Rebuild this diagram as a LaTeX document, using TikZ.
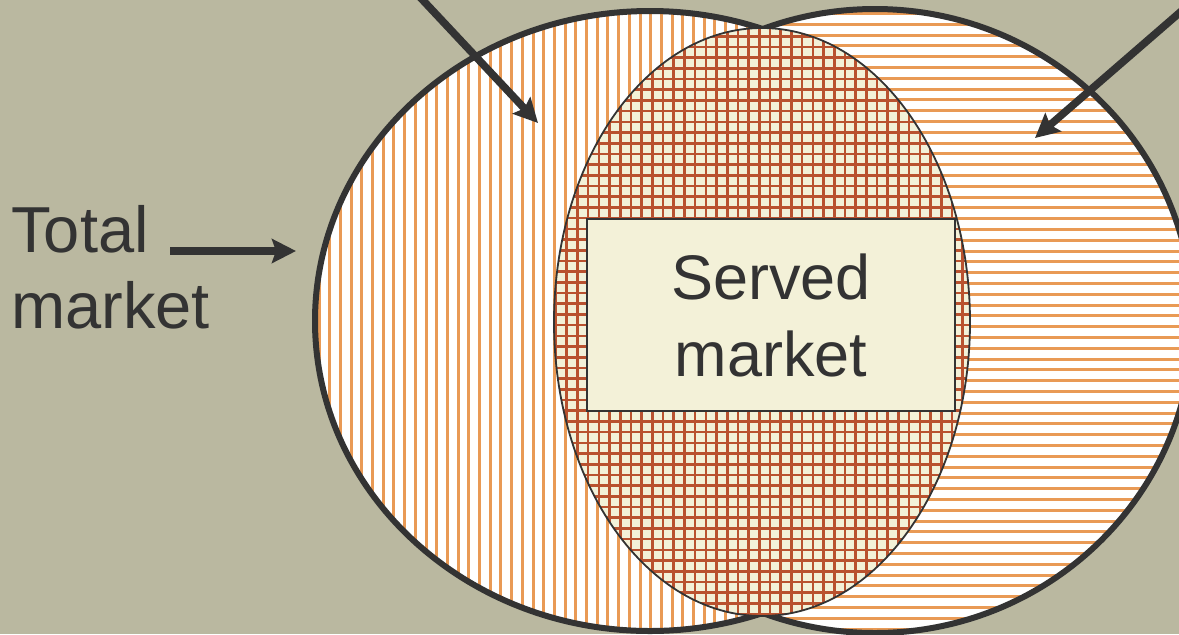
\documentclass[tikz,border=0pt]{standalone}
\usepackage{fontspec}
\setmainfont{Liberation Sans}
\usepackage{tikz}
\usetikzlibrary{arrows.meta,positioning,shapes.geometric}
\definecolor{olivebg}{HTML}{BAB8A0}
\definecolor{ink}{HTML}{333333}
\definecolor{stripeorange}{HTML}{E99A55}
\definecolor{gridbrick}{HTML}{B9522F}
\definecolor{cream}{HTML}{F3F1D8}
\tikzset{
  marketdisc/.style={ellipse,draw=ink,line width=3pt,fill=white,inner sep=0pt},
  vstripes/.style={path picture={
      \foreach \k in {0,...,66}
        \draw[stripeorange,line width=1.5pt]
          ([xshift=\k*5.35pt+2pt]path picture bounding box.south west) --
          ([xshift=\k*5.35pt+2pt]path picture bounding box.north west);}},
  hstripes/.style={path picture={
      \foreach \k in {0,...,60}
        \draw[stripeorange,line width=1.5pt]
          ([yshift=\k*5.4pt+2pt]path picture bounding box.south west) --
          ([yshift=\k*5.4pt+2pt]path picture bounding box.south east);}},
  servedgrid/.style={ellipse,draw=ink,line width=0.9pt,fill=cream,inner sep=0pt,
    path picture={
      \foreach \k in {0,...,41}
        \draw[gridbrick,line width=1.3pt]
          ([xshift=\k*5.35pt+1pt]path picture bounding box.south west) --
          ([xshift=\k*5.35pt+1pt]path picture bounding box.north west);
      \foreach \k in {0,...,58}
        \draw[gridbrick,line width=1.3pt]
          ([yshift=\k*5.35pt+1pt]path picture bounding box.south west) --
          ([yshift=\k*5.35pt+1pt]path picture bounding box.south east);}},
  servedbox/.style={draw=ink,line width=1pt,fill=cream,inner sep=0pt,
    minimum width=184pt,minimum height=96pt,align=center,text=ink,
    font=\fontsize{31.5}{38.5}\selectfont},
  sidelabel/.style={align=left,inner sep=0pt,text=ink,
    font=\fontsize{32.5}{38}\selectfont},
  ptr/.style={draw=ink,line width=3.8pt,
    -{Stealth[length=12pt,width=12pt,inset=2pt]}}
}
\begin{document}
\begin{tikzpicture}[x=0.5pt,y=-0.5pt]
  \useasboundingbox (0,0) rectangle (1179,634);
  \clip (0,0) rectangle (1179,634);
  \fill[olivebg] (0,0) rectangle (1179,634);

  % the two markets
  \node[marketdisc,vstripes,minimum width=335pt,minimum height=310pt]
    (total) at (650,321) {};
  \node[marketdisc,hstripes,minimum width=318pt,minimum height=312pt]
    (target) at (875,321) {};
  \node[servedgrid,minimum width=208pt,minimum height=294pt]
    (overlap) at (762,322) {};
  \node[servedbox] (served) at (771,315) {Served\\market};

  % label on the left
  \node[sidelabel,anchor=base west] (totallbl) at (11,328) {Total\\market};
  \coordinate (totalptr) at (170,251);
  \draw[ptr,shorten >=8pt] (totalptr) -- (totalptr -| total.west);

  % pointers coming in from above
  \coordinate (leftsrc) at (403,-21);
  \coordinate (leftend) at (538,123);
  \coordinate (rightsrc) at (1200,-5);
  \coordinate (rightend) at (1035,138);
  \draw[ptr] (leftsrc) -- (leftend);
  \draw[ptr] (rightsrc) -- (rightend);
\end{tikzpicture}
\end{document}
